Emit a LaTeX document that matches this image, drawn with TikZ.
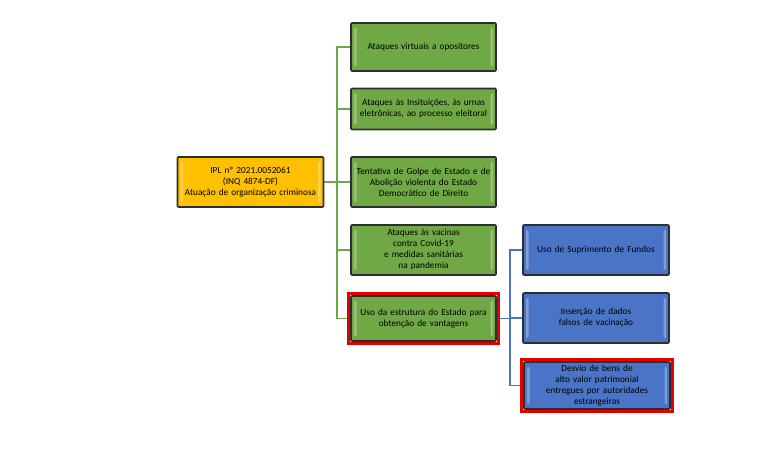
\documentclass[tikz,border=0pt]{standalone}
\usepackage{fontspec}
\setmainfont{Carlito}
\usetikzlibrary{fit,backgrounds}
\definecolor{gfill}{HTML}{70A845}
\definecolor{gline}{HTML}{6DAA45}
\definecolor{bfill}{HTML}{4A74C6}
\definecolor{bline}{HTML}{4A74C6}
\definecolor{ofill}{HTML}{FFC000}
\definecolor{edge}{HTML}{2E2E2E}
\definecolor{redframe}{HTML}{E00000}
\tikzset{
  box/.style={draw=edge, line width=1.6pt, rounded corners=1pt, align=center,
    font=\fontsize{9.3}{11}\selectfont, inner sep=2pt,
    path picture={
      \fill[white,opacity=0.3,rounded corners=1pt]
        ([xshift=3pt,yshift=-5pt]path picture bounding box.north west) rectangle
        ([xshift=5.5pt,yshift=5pt]path picture bounding box.south west);
      \fill[white,opacity=0.3,rounded corners=1pt]
        ([xshift=-5.5pt,yshift=-5pt]path picture bounding box.north east) rectangle
        ([xshift=-3pt,yshift=5pt]path picture bounding box.south east);
    }},
  greenbox/.style={box, fill=gfill, minimum width=145pt, text width=140pt},
  bluebox/.style={box, fill=bfill, minimum width=146pt, text width=140pt},
  rootbox/.style={box, fill=ofill, minimum width=145pt, text width=142pt, minimum height=50pt},
  redbox/.style={draw=redframe, line width=3pt},
  gconn/.style={draw=gline, line width=1.6pt},
  bconn/.style={draw=bline, line width=1.6pt},
}
\begin{document}
\begin{tikzpicture}[x=1pt,y=-1pt]
\useasboundingbox (0,0) rectangle (768,465);

\node[rootbox] (root) at (250.5,182) {IPL nº 2021.0052061\\(INQ 4874-DF)\\Atuação de organização criminosa};

\node[greenbox, minimum height=48pt] (g1) at (423.5,47) {Ataques virtuais a opositores};
\node[greenbox, minimum height=41pt] (g2) at (423.5,109) {Ataques às Insituições, às urnas\\eletrônicas, ao processo eleitoral};
\node[greenbox, minimum height=50pt] (g3) at (423.5,182) {Tentativa de Golpe de Estado e de\\Abolição violenta do Estado\\Democrático de Direito};
\node[greenbox, minimum height=50pt] (g4) at (423.5,250) {Ataques às vacinas\\contra Covid-19\\e medidas sanitárias\\na pandemia};
\node[greenbox, minimum height=45pt] (g5) at (423.5,318.5) {Uso da estrutura do Estado para\\obtenção de vantagens};

\node[bluebox, minimum height=50pt] (b1) at (596,250) {Uso de Suprimento de Fundos};
\node[bluebox, minimum height=50pt] (b2) at (596,318) {Inserção de dados\\falsos de vacinação};
\node[bluebox, minimum height=47pt] (b3) at (597,385.5) {Desvio de bens de\\alto valor patrimonial\\entregues por autoridades\\estrangeiras};

\node[redbox, fit=(g5), inner sep=1.8pt] (r5) {};
\node[redbox, fit=(b3), inner sep=1.8pt] (r3) {};

\coordinate (gt) at (337,182);
\coordinate (bt) at (510,318.5);

\begin{scope}[on background layer]
\fill[white] (0,0) rectangle (768,465);
\draw[gconn] (root.east) -- (gt);
\foreach \n in {g1,g2,g3,g4,g5} { \draw[gconn] (gt) |- (\n.west); }
\draw[bconn] (g5.east) -- (bt);
\foreach \n in {b1,b2,b3} { \draw[bconn] (bt) |- (\n.west); }
\end{scope}
\end{tikzpicture}
\end{document}
